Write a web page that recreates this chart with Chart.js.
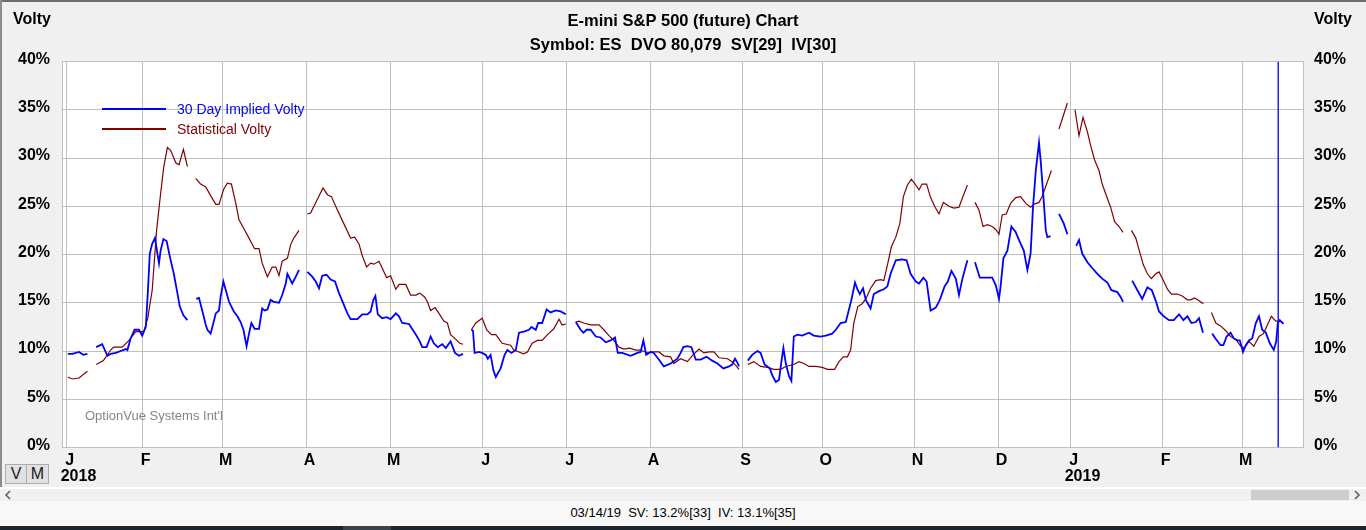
<!DOCTYPE html>
<html>
<head>
<meta charset="utf-8">
<title>E-mini S&amp;P 500 (future) Chart</title>
<script src="https://cdn.jsdelivr.net/npm/chart.js@4.4.1/dist/chart.umd.min.js"></script>
<style>
  html, body { margin: 0; padding: 0; }
  body { width: 1366px; height: 530px; overflow: hidden; position: relative; background: #f0f0f0;
         font-family: "Liberation Sans", Arial, sans-serif; }
  #wrap { position: absolute; left: 0; top: 0; width: 1366px; height: 487px; }
  canvas { display: block; }
  .abs { position: absolute; }
  .btn { box-sizing: border-box; border: 1px solid #adadad; background: #e1e1e1; color: #1a1a1a;
         font-size: 16px; line-height: 18px; text-align: center; }
  #status { left: 0; top: 501px; width: 1366px; height: 25px; background: #f8f8f8; font-size: 13px;
            line-height: 24px; text-align: center; white-space: pre; color: #000; padding-left: 0; }
</style>
</head>
<body>
<div id="wrap"><canvas id="chart" width="1366" height="487"></canvas></div>
<div class="abs" style="left:0;top:0;width:1366px;height:2px;background:#6e6e6e"></div>
<div class="abs" style="left:0;top:0;width:2px;height:487px;background:#8c8c8c"></div>
<div class="abs btn" style="left:5px;top:464px;width:22px;height:20px">V</div>
<div class="abs btn" style="left:26px;top:464px;width:23px;height:20px">M</div>
<div class="abs" style="left:0;top:487px;width:1366px;height:2px;background:#ffffff"></div>
<div class="abs" style="left:0;top:489px;width:1366px;height:12px;background:#f0f0f0"></div>
<div class="abs" style="left:1251px;top:490px;width:98px;height:10px;background:#cdcdcd"></div>
<svg class="abs" style="left:0;top:489px" width="1366" height="12">
  <polyline points="10,2 6,6 10,10" fill="none" stroke="#606060" stroke-width="1.6"/>
  <polyline points="1355,2 1359,6 1355,10" fill="none" stroke="#606060" stroke-width="1.6"/>
</svg>
<div class="abs" id="status"></div>
<div class="abs" style="left:0;top:526px;width:1366px;height:4px;background:#1c262c"></div>
<div class="abs" style="left:343px;top:526px;width:48px;height:4px;background:#3a4349"></div>

<script>
// ---------- data (x = trading-day index from 2 Jan 2018, y = volatility %) ----------
const titleLines = ['E-mini S&P 500 (future) Chart', 'Symbol: ES  DVO 80,079  SV[29]  IV[30]'];
const statusText = '03/14/19  SV: 13.2%[33]  IV: 13.1%[35]';

const monthDays   = [1, 20, 40, 61, 82, 105, 126, 147, 170, 190, 213, 234, 252, 275, 295];
const monthLabels = ['J', 'F', 'M', 'A', 'M', 'J', 'J', 'A', 'S', 'O', 'N', 'D', 'J', 'F', 'M'];
const yearLabels  = {0: '2018', 12: '2019'};
const yTicks = [0, 5, 10, 15, 20, 25, 30, 35, 40];
const cursorDay = [303.9];

const impliedVol = [
  [1.3,9.7],[2.4,9.7],[3.3,9.8],[4.1,9.9],[5.2,9.6],[6.2,9.7],[7.3,null],
  [8.4,10.4],[9.9,10.7],[11.2,9.5],[12,9.7],[13.3,9.8],[14.5,10.0],[15.8,10.2],[16.2,10.1],[17,11.3],[18,12.2],
  [19.1,12.2],[19.9,11.6],[20.8,12.5],[21.3,16.0],[21.8,20.1],[22.4,21.1],[23.1,21.7],[23.7,20.1],[24.1,19.1],
  [24.5,20.4],[25.2,21.6],[26,21.4],[26.8,19.8],[27.8,18.0],[28.7,16.0],[29.3,14.6],[30.2,13.7],[31.2,13.2],[32.3,null],
  [33.4,15.4],[34.1,15.5],[34.9,14.2],[35.8,12.7],[36.2,12.2],[37,11.8],[37.7,12.9],[38.3,13.9],[39.1,14.2],
  [39.5,15.6],[40.2,17.2],[40.8,16.3],[41.6,15.1],[42.8,14.1],[43.7,13.6],[44.5,13.0],[45.2,12.2],[46,10.5],
  [46.6,11.8],[47.2,12.9],[48,12.3],[49.1,12.3],[49.9,14.4],[50.5,14.2],[51.2,14.3],[52,15.3],[52.8,15.1],
  [54.1,15.0],[54.9,15.8],[55.8,17.0],[56.2,18.0],[56.8,17.5],[57.4,17.0],[58.3,17.7],[59.1,18.4],[60.2,null],
  [61.2,18.2],[62.4,17.7],[63.3,17.2],[64.1,16.5],[64.9,17.8],[66,17.9],[67,17.4],[68.1,17.2],[69.1,16.0],
  [70.2,14.9],[71.2,13.9],[72,13.3],[73.7,13.3],[74.9,13.8],[76.2,13.8],[77,14.1],[77.7,15.3],[78.2,15.7],
  [78.8,13.8],[79.9,13.4],[81,13.5],[82,13.3],[83.3,13.9],[84.1,13.6],[84.9,12.9],[86.6,12.8],[88.3,11.7],
  [89.3,11.0],[89.9,10.4],[91,10.4],[92,11.5],[92.8,10.8],[93.8,10.4],[94.9,10.7],[95.8,10.3],[97,11.0],
  [98.1,9.8],[99.1,9.5],[100.1,9.7],[101.2,null],
  [102.2,12.2],[102.6,12.1],[103,9.8],[104.1,9.9],[104.9,9.8],[105.8,9.6],[106.3,9.2],[107,9.6],[107.7,8.0],
  [108.3,7.3],[109.5,8.2],[110.5,9.6],[111.2,10.1],[112.2,9.8],[113.3,10.1],[114.1,11.9],[115.3,12.0],
  [116.6,12.2],[117.2,12.5],[118.3,12.2],[118.9,12.9],[119.9,12.9],[121,14.3],[122,14.0],[123.3,14.2],
  [124.5,14.1],[125.8,13.8],[127,null],
  [128.3,13.0],[129.5,12.2],[130.2,11.9],[131,12.2],[132,12.2],[133.3,11.5],[134.5,11.4],[135.8,10.9],
  [137,11.1],[138.1,11.4],[138.8,9.8],[139.9,9.8],[142,9.5],[143.7,9.8],[144.5,9.9],[145.2,11.1],[145.9,9.6],
  [147,9.9],[147.8,9.8],[149.1,9.1],[150.3,8.4],[152,8.7],[153.7,9.2],[154.5,9.8],[155.2,10.4],[156.2,10.5],
  [157.2,10.4],[158.3,9.1],[159.5,9.1],[161,9.4],[162.4,9.0],[163.7,8.7],[165.2,8.2],[166.6,8.4],[167.4,8.6],
  [168.1,9.2],[168.7,8.8],[169.1,8.4],[170.2,null],
  [171.3,9.0],[172.4,9.6],[173.7,10.0],[174.5,9.8],[175.5,8.6],[176.8,8.2],[177.4,7.5],[178.3,6.8],[179.1,7.0],
  [179.7,8.9],[180.2,10.3],[180.8,8.7],[181.6,7.4],[182.2,6.9],[182.8,11.5],[183.7,11.7],[184.9,11.6],
  [186.6,11.9],[187.8,11.6],[189.5,11.5],[190.8,11.6],[192.4,11.8],[193.3,12.2],[194.5,12.9],[195.8,13.0],
  [197.2,15.3],[198.1,17.1],[198.7,16.4],[199.3,15.9],[200.1,16.5],[200.8,15.3],[202,14.4],[202.8,15.9],
  [204.1,16.2],[205.3,16.4],[206.2,16.7],[207,18.0],[208.3,19.4],[209.9,19.5],[211,19.4],[212,18.0],
  [213.3,17.2],[214.1,17.0],[215.2,17.6],[216,17.2],[217,14.2],[218.3,14.5],[219.3,15.3],[220.5,16.7],
  [221.3,17.2],[222.2,18.3],[223.3,17.5],[224.1,15.8],[224.9,17.4],[226.2,19.4],[227.2,null],
  [228.1,19.2],[229.3,17.6],[230.8,17.6],[232.4,17.6],[233.3,16.8],[234.1,15.4],[234.5,16.7],[235.2,19.6],
  [236.2,20.4],[237.2,22.9],[238.3,22.3],[239.3,21.3],[240.3,20.4],[241.2,18.4],[242,20.1],[242.6,24.9],
  [243.3,28.7],[244.1,31.6],[244.5,29.8],[245.2,26.0],[245.8,22.5],[246.2,21.8],[247,21.9],[248,null],
  [249.1,24.2],[250.3,23.2],[251.2,22.1],[252.3,null],
  [253.4,20.9],[254.1,21.5],[254.9,20.1],[256.2,19.2],[257.4,18.6],[258.7,18.0],[259.9,17.5],[261.2,17.1],
  [262.2,16.3],[263.7,16.1],[264.5,15.6],[265.1,15.1],[266.2,null],
  [267.4,17.3],[268.7,16.3],[269.9,15.4],[271.2,16.6],[272.3,16.3],[273.3,15.2],[274.1,14.1],[275.3,13.6],
  [276.6,13.2],[277.8,13.2],[279.1,13.8],[280.2,13.2],[281.2,13.6],[282.2,12.9],[283.3,13.0],[284.1,13.4],
  [285.1,11.9],[286.2,null],
  [287.4,11.8],[288.4,11.2],[289.5,10.6],[290.2,10.6],[291,11.5],[292,11.9],[292.8,11.3],[293.7,11.1],
  [294.3,11.1],[295.1,9.9],[295.8,10.6],[296.6,11.1],[297.4,11.3],[298.3,12.9],[299.1,13.6],[299.9,12.2],
  [300.8,11.9],[301.8,10.8],[302.8,10.1],[303.4,11.0],[303.8,12.9],[304.3,13.2],[305.2,12.8]
];

const statisticalVol = [
  [1.3,7.3],[2.4,7.1],[4.1,7.2],[6.2,7.9],[7.3,null],
  [8.4,8.6],[10.2,9.0],[12,10.1],[12.8,10.4],[14.9,10.4],[16.6,11.1],[18.3,12.0],[19.5,12.0],[20.3,12.0],
  [21.3,13.4],[22.4,16.3],[23.5,22.5],[24.5,26.3],[25.3,29.1],[26.2,31.1],[27,30.8],[28.3,29.5],[29.1,29.3],
  [30.2,30.9],[31.2,29.1],[32.3,null],
  [33.3,27.9],[34.5,27.3],[35.8,27.0],[37,26.1],[38.3,25.2],[39.1,25.2],[40.3,26.8],[41.2,27.4],[42.2,27.3],
  [43.3,25.3],[44.1,23.6],[45.3,22.7],[46.6,21.7],[48,20.6],[49.1,20.6],[49.9,19.1],[51.2,17.7],[52.4,18.7],
  [53.3,18.7],[54.1,17.8],[54.9,19.3],[56.2,19.6],[57,21.0],[57.8,21.7],[59.1,22.5],[60.2,null],
  [61.2,24.2],[62,24.3],[63.3,25.4],[65.1,26.9],[66.2,26.2],[67.2,26.0],[68.7,24.6],[70.3,23.2],[72,21.7],
  [73,21.8],[74.1,21.1],[74.9,19.9],[76,18.7],[77,19.1],[77.8,19.0],[79.1,19.3],[79.9,18.6],[81,17.6],
  [82,17.8],[83.3,16.4],[84.1,16.9],[85.8,16.9],[87,15.8],[88.3,15.8],[89.3,16.0],[90.5,15.6],[91.2,15.1],
  [92,14.2],[93.1,14.5],[94.1,13.9],[95.3,13.1],[96.2,12.9],[97,11.7],[98.3,11.2],[99.3,10.8],[100.1,10.7],
  [101.2,null],
  [102.2,12.2],[103.3,12.9],[104.9,13.4],[106,12.2],[107.2,11.7],[108.3,11.7],[109.9,10.8],[112,10.6],
  [112.8,10.1],[114.1,9.9],[115.2,9.7],[116.2,9.9],[117.4,10.8],[118.7,11.1],[119.9,11.1],[121.2,11.7],
  [122.8,12.3],[124.1,13.3],[124.9,12.7],[125.8,12.8],[127,null],
  [128.3,13.0],[129.1,13.1],[130.3,12.9],[132,12.7],[134.1,12.7],[135.3,12.2],[136.6,11.6],[137.8,11.1],
  [139.1,10.4],[140.3,10.2],[141.8,10.3],[143.3,10.1],[144.5,10.1],[146.2,9.8],[147.4,9.9],[149.1,9.9],
  [150.3,9.5],[152,9.4],[152.8,8.7],[154.5,9.2],[156.2,8.9],[157.4,9.5],[159.1,10.2],[160.3,9.8],[161.6,9.9],
  [162.8,9.9],[164.1,9.3],[166.2,9.2],[167.4,8.9],[168.5,8.4],[169.1,8.1],[170.2,null],
  [171.3,8.6],[172.8,8.9],[174.5,8.4],[176.2,8.3],[177.8,8.1],[179.5,8.1],[180.8,8.4],[182.8,8.6],[184.1,8.9],
  [185.3,8.7],[186.6,8.4],[188.3,8.4],[189.9,8.3],[191.2,8.1],[193,8.1],[194.1,8.9],[195.2,9.4],[196.2,9.4],
  [197,10.1],[197.8,12.9],[198.8,14.6],[199.9,14.9],[200.8,15.4],[202,16.5],[203.3,17.3],[204.5,17.4],
  [205.3,17.3],[206.2,18.9],[207.2,20.8],[208.3,21.8],[209.3,23.2],[210.2,26.0],[211.2,27.2],[212.2,27.8],
  [213.3,27.2],[214.1,26.7],[214.9,27.3],[216,27.3],[217,25.9],[218,25.0],[219.1,24.2],[220.2,25.4],
  [221.6,25.0],[222.8,24.8],[224.1,24.9],[224.9,25.8],[226.2,27.2],[227.2,null],
  [228.1,25.4],[229.1,24.6],[230.1,22.9],[231.2,23.1],[232.4,22.9],[233.3,22.6],[234.1,22.1],[234.9,24.1],
  [235.9,24.2],[237,25.3],[238.3,25.9],[239.5,26.0],[240.8,25.3],[242,24.9],[242.8,25.2],[244.1,25.4],
  [244.9,26.0],[246,27.3],[247.2,28.7],[248,null],
  [249.1,33.0],[251.2,35.7],[252.2,null],
  [253.1,35.0],[254.1,32.3],[255.1,34.2],[256.2,32.7],[257,31.3],[258,29.8],[259.1,28.7],[259.9,27.3],
  [261.2,25.8],[262,24.9],[263,23.4],[264.1,22.9],[265.1,22.3],[266.2,null],
  [267.2,22.5],[268.3,21.7],[269.1,20.5],[270.2,18.9],[271.2,18.0],[272.2,17.5],[273.3,18.0],[274.1,18.2],
  [275.2,17.3],[276.2,16.4],[277.2,15.9],[278.7,15.9],[279.9,15.7],[281.2,15.3],[282,15.3],[283,15.5],
  [284.1,15.2],[285.2,14.9],[286.2,null],
  [287.2,14.0],[288.3,12.9],[289.5,12.6],[290.8,12.1],[292,11.5],[293.3,11.2],[294.5,10.5],[295.3,10.3],
  [296.6,11.0],[297.8,10.5],[299.1,11.5],[300.2,11.8],[301.2,12.7],[302.2,13.6],[303.3,13.1],[304.3,13.1],
  [305.2,12.9]
];

// ---------- rendering ----------
document.getElementById('status').textContent = statusText;

const FAMILY = '"Liberation Sans", Arial, Helvetica, sans-serif';
const GRID = '#c0c0c0';
Chart.defaults.font.family = FAMILY;

const toPoints = pairs => pairs.map(p => ({x: p[0], y: p[1]}));

const decor = {
  id: 'decor',
  beforeDraw(chart) {
    const {ctx, chartArea: a} = chart;
    ctx.save();
    ctx.fillStyle = '#ffffff';
    ctx.fillRect(a.left, a.top, a.right - a.left, a.bottom - a.top);
    ctx.restore();
  },
  afterDraw(chart) {
    const {ctx} = chart;
    ctx.save();
    // axis captions
    ctx.fillStyle = '#000';
    ctx.font = 'bold 16px ' + FAMILY;
    ctx.textBaseline = 'alphabetic';
    ctx.textAlign = 'left';
    ctx.fillText('Volty', 13, 24);
    ctx.fillText('Volty', 1314, 24);
    // legend (first two datasets)
    ctx.font = '14px ' + FAMILY;
    chart.data.datasets.slice(0, 2).forEach((ds, k) => {
      const y = 109 + k * 20;
      ctx.strokeStyle = ds.borderColor;
      ctx.lineWidth = 2;
      ctx.beginPath();
      ctx.moveTo(102, y);
      ctx.lineTo(166, y);
      ctx.stroke();
      ctx.fillStyle = ds.borderColor;
      ctx.fillText(ds.label, 177, y + 5);
    });
    // watermark
    ctx.font = '13px ' + FAMILY;
    ctx.fillStyle = '#858585';
    ctx.fillText("OptionVue Systems Int'l", 85, 420);
    ctx.restore();
  }
};

const yTickFont = {size: 16, weight: 'bold', lineHeight: '4px'};

new Chart(document.getElementById('chart'), {
  type: 'line',
  data: {
    datasets: [
      {label: '30 Day Implied Volty', data: toPoints(impliedVol), borderColor: '#0000ff',
       borderWidth: 1.8, pointRadius: 0, tension: 0, spanGaps: false, yAxisID: 'y', order: 1},
      {label: 'Statistical Volty', data: toPoints(statisticalVol), borderColor: '#800000',
       borderWidth: 1.2, pointRadius: 0, tension: 0, spanGaps: false, yAxisID: 'y', order: 2},
      {label: 'Cursor', data: [{x: cursorDay[0], y: 0}, {x: cursorDay[0], y: 40}], borderColor: '#0000ff',
       borderWidth: 1.3, pointRadius: 0, yAxisID: 'y', order: 0}
    ]
  },
  options: {
    responsive: false,
    animation: false,
    events: [],
    layout: {padding: 0},
    plugins: {
      legend: {display: false},
      tooltip: {enabled: false},
      title: {
        display: true, text: titleLines, color: '#000',
        font: {size: 16.5, weight: 'bold', lineHeight: '23.5px'},
        padding: {top: 9.75, bottom: 4.75}
      }
    },
    scales: {
      x: {
        type: 'linear', min: -0.15, max: 310.1,
        afterBuildTicks: s => { s.ticks = monthDays.map(v => ({value: v})); },
        afterFit: s => { s.height = 39.5; },
        grid: {color: GRID, drawTicks: false, lineWidth: 1},
        border: {color: GRID},
        ticks: {
          autoSkip: false, maxRotation: 0, padding: 5, labelOffset: 3, color: '#000',
          font: {size: 16, weight: 'bold', lineHeight: '16px'},
          callback: (v, i) => yearLabels[i] ? [monthLabels[i], '    ' + yearLabels[i]] : monthLabels[i]
        }
      },
      y: {
        position: 'left', min: 0, max: 40,
        afterBuildTicks: s => { s.ticks = yTicks.map(v => ({value: v})); },
        afterFit: s => { s.width = 62; },
        grid: {color: GRID, drawTicks: false},
        border: {color: GRID},
        ticks: {padding: 12, color: '#000', font: yTickFont, callback: v => [v + '%', '']}
      },
      y2: {
        position: 'right', min: 0, max: 40,
        afterBuildTicks: s => { s.ticks = yTicks.map(v => ({value: v})); },
        afterFit: s => { s.width = 63; },
        grid: {display: false, drawTicks: false},
        border: {color: GRID},
        ticks: {padding: 11, color: '#000', font: yTickFont, callback: v => [v + '%', '']}
      }
    }
  },
  plugins: [decor]
});
</script>
</body>
</html>
